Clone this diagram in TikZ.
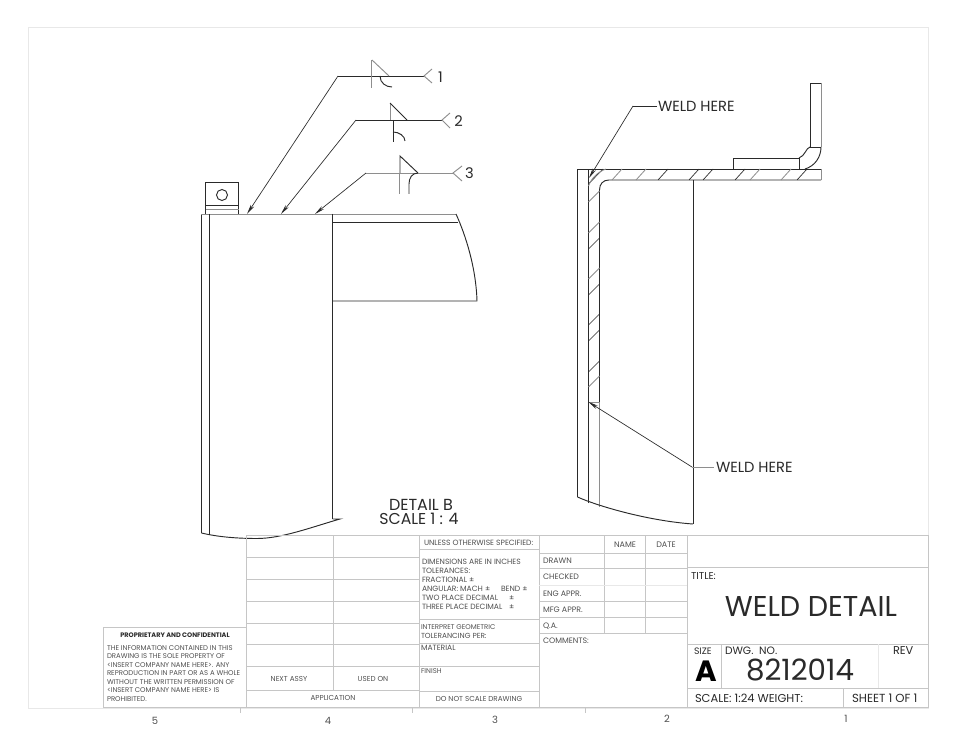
\documentclass[tikz,border=0pt]{standalone}
\usepackage{fontspec}
\setmainfont{Poppins}
\usetikzlibrary{arrows.meta}
\definecolor{ink}{HTML}{2A2A2A}
\definecolor{soft}{HTML}{8E8E8E}
\definecolor{rule}{HTML}{C6C6C6}
\definecolor{faint}{HTML}{E8E8E8}
\definecolor{smalltext}{HTML}{505050}
\newcommand\fs[1]{\fontsize{#1}{#1}\selectfont}
\tikzset{
 every node/.style={inner sep=0pt,outer sep=0pt},
 part/.style={draw=ink,line width=0.7pt},
 partsoft/.style={draw=soft,line width=0.7pt},
 hatch/.style={draw=ink,line width=0.5pt},
 hatchsoft/.style={draw=soft,line width=0.6pt},
 tbl/.style={draw=rule,line width=0.6pt},
 frame/.style={draw=faint,line width=0.6pt},
 leader/.style={draw=ink,line width=0.5pt,-{Stealth[length=7.5pt,width=2.8pt]}},
 leadsoft/.style={draw=soft,line width=0.6pt},
 big/.style={text=ink,font=\fs{11pt}},
 small/.style={text=smalltext,font=\fs{5.7pt},anchor=west},
 note/.style={text=smalltext,font=\fs{5.2pt},anchor=west},
 smallc/.style={text=smalltext,font=\fs{5.4pt},anchor=center},
 mid/.style={text=smalltext,font=\fs{7.5pt}},
 titletext/.style={anchor=west,text=ink,font=\fs{8.6pt}},
}
\begin{document}
\begin{tikzpicture}[x=0.75pt,y=-0.75pt]
\useasboundingbox (0,0) rectangle (960,741);
\fill[white] (0,0) rectangle (960,741);
% sheet frame
\draw[frame] (28,27) rectangle (928,708);
\foreach \x in {240,412,585}{\draw[tbl] (\x,708)--(\x,713);}
\node[mid] (zone5) at (155,721) {5};
\node[mid] (zone4) at (328,721) {4};
\node[mid] (zone3) at (495,720) {3};
\node[mid] (zone2) at (667,719) {2};
\node[mid] (zone1) at (846,719) {1};

% left view
\draw[part] (201.5,533) -- (201.5,214);
\draw[partsoft] (201,214) -- (456,214);
\draw[part] (209.5,214) -- (209.5,535);
\draw[part] (332.5,214) -- (332.5,519);
\draw[part] (332.5,222) -- (458,222);
\draw[part] (456,214) .. controls (466,236) and (476,268) .. (477,301) -- (332.5,301);
\draw[part] (201.5,533) .. controls (218,537) and (238,538.5) .. (257,538.5) .. controls (282,538.5) and (312,527) .. (340,519) -- (332.5,519);
% bracket
\draw[part] (205.5,214) -- (205.5,182) -- (238.5,182) -- (238.5,214);
\draw[part] (205.5,205) -- (238.5,205);
\draw[partsoft] (205.5,209) -- (238.5,209);
\draw[part] (222,195) circle[radius=5.5];

% weld symbol 1
\coordinate (t1) at (247,214); \coordinate (k1) at (338,76); \coordinate (e1) at (424,76);
\draw[leader] (k1) -- (t1);
\draw[draw=ink,line width=0.6pt] (k1) -- (e1);
\draw[partsoft] (432,69) -- (e1) -- (432,83);
\node[big] (lab1) at (440.5,77) {1};
\draw[partsoft] (372,60) -- (389,76);
\draw[partsoft] (371,60) -- (371,88);
\draw[part] (380,76) .. controls (380,83) and (386,87) .. (392,87);
% weld symbol 2
\coordinate (t2) at (281,214); \coordinate (k2) at (356,120); \coordinate (e2) at (442,120);
\draw[leader] (k2) -- (t2);
\draw[draw=ink,line width=0.6pt] (k2) -- (e2);
\draw[partsoft] (450,113) -- (e2) -- (450,128);
\node[big] (lab2) at (458.5,121) {2};
\draw[partsoft] (390,103) -- (390,120);
\draw[part] (390,103) -- (407,120);
\draw[part] (393,120) -- (393,142);
\draw[part] (393,132) .. controls (399,132) and (405,136) .. (405,141);
% weld symbol 3
\coordinate (t3) at (315,214); \coordinate (k3) at (366,173); \coordinate (e3) at (453,173);
\draw[leader] (k3) -- (t3);
\draw[leadsoft] (k3) -- (e3);
\draw[partsoft] (462,166) -- (e3) -- (462,181);
\node[big] (lab3) at (469.5,173) {3};
\draw[part] (400,173) -- (400,156) -- (418,173);
\draw[part] (418,173) .. controls (412,173) and (409,178) .. (409,184) -- (409,194);
\draw[partsoft] (399,173) -- (399,194);

\node[big,font=\fs{12pt}] (det1) at (421,505) {DETAIL B};
\node[big,font=\fs{11.8pt}] (det2) at (419,519) {SCALE 1 : 4};

% right view
\draw[part] (577.5,497) -- (577.5,169) -- (821,169);
\draw[part] (588.5,503) -- (588.5,169);
\draw[part] (599.5,402) -- (599.5,190) .. controls (599.5,184) and (603,180) .. (609,180) -- (821,180);
\draw[partsoft] (821,169) -- (821,180);
\draw[partsoft] (599.5,402) -- (599.5,507);
\draw[partsoft] (588.5,402) -- (599.5,402);
\draw[part] (693,180) -- (693,524);
\draw[part] (577.5,497) .. controls (600,507) and (650,521) .. (693,524);
% hook
\draw[part] (810,147) -- (810,83) -- (821,83);
\draw[partsoft] (821,83) -- (821,147);
\draw[part] (810,147) -- (821,147);
\draw[part] (821,147) .. controls (821,157) and (815,166) .. (805,169);
\draw[part] (810,147) .. controls (806,148) and (805,156) .. (799,158);
\draw[part] (733,169) -- (733,158) -- (799,158) -- (799,169);
% hatches, top plate
\foreach \x in {658,689,703,735,797}{\draw[hatch] (\x,180)--(\x+10,169);}
\foreach \x in {612,636,750,781}{\draw[hatchsoft] (\x,180)--(\x+10,169);}
% hatches, wall
\foreach \y in {249,295,325,341,372}{\draw[hatch] (588.5,\y)--(599.5,\y-11);}
\foreach \y in {202,233,279,387}{\draw[hatchsoft] (588.5,\y)--(599.5,\y-11);}
% corner of the weld
\draw[hatch] (588.5,184) -- (603,169);
\draw[hatchsoft] (588.5,186) .. controls (592,177) and (598,172) .. (606,169);
\coordinate (wt1) at (589,178); \coordinate (wk1) at (633,106); \coordinate (we1) at (657,106);
\draw[leader] (wk1) -- (wt1);
\draw[draw=ink,line width=0.6pt] (wk1) -- (we1);
\node[big,anchor=west] (weld1) at (658,106.5) {WELD HERE};
\coordinate (wt2) at (588.5,402); \coordinate (wk2) at (692,467); \coordinate (we2) at (714,467);
\draw[leader] (wk2) -- (wt2);
\draw[leadsoft] (wk2) -- (we2);
\node[big,anchor=west] (weld2) at (716,467.5) {WELD HERE};

% title block rules
\draw[tbl] (246,535) -- (928,535) -- (928,707) -- (103,707) -- (103,627) -- (246,627);
\draw[tbl] (246,535) -- (246,707);
\draw[tbl] (333,535) -- (333,690);
\draw[tbl] (419,535) -- (419,707);
\foreach \y in {557,579,601,623,644,666,690}{\draw[tbl] (246,\y)--(419,\y);}
\foreach \y in {549,619,643,666,691}{\draw[tbl] (419,\y)--(539,\y);}
\draw[tbl] (539,535) -- (539,707);
\draw[tbl] (604,535) -- (604,633);
\draw[tbl] (645,535) -- (645,633);
\draw[tbl] (687,535) -- (687,707);
\foreach \y in {553,568,601,617,633}{\draw[tbl] (539,\y)--(687,\y);}
\draw[frame] (539,585)--(687,585);
\foreach \y in {567,644,688}{\draw[tbl] (687,\y)--(928,\y);}
\draw[tbl] (721,644) -- (721,688);
\draw[frame] (878,644) -- (878,688);
\draw[tbl] (843,688) -- (843,707);

% proprietary note
\node[anchor=center,text=ink,font=\fs{4.9pt}\bfseries] (pn0) at (175,635) {PROPRIETARY AND CONFIDENTIAL};
\node[note] (pn1) at (107,648) {THE INFORMATION CONTAINED IN THIS};
\node[note] (pn2) at (107,656.5) {DRAWING IS THE SOLE PROPERTY OF};
\node[note] (pn3) at (107,665) {<INSERT COMPANY NAME HERE>. ANY};
\node[note] (pn4) at (107,673.5) {REPRODUCTION IN PART OR AS A WHOLE};
\node[note] (pn5) at (107,682) {WITHOUT THE WRITTEN PERMISSION OF};
\node[note] (pn6) at (107,690.5) {<INSERT COMPANY NAME HERE> IS};
\node[note] (pn7) at (107,699) {PROHIBITED.};

\node[smallc] (next) at (289,679) {NEXT ASSY};
\node[smallc] (used) at (373,679) {USED ON};
\node[smallc] (appl) at (333,698) {APPLICATION};
\node[smallc] (noscale) at (479,699) {DO NOT SCALE DRAWING};

\node[small] (t1a) at (424,543) {UNLESS OTHERWISE SPECIFIED:};
\node[small] (t2a) at (422,562) {DIMENSIONS ARE IN INCHES};
\node[small] (t3a) at (422,571) {TOLERANCES:};
\node[small] (t4a) at (422,580) {FRACTIONAL ±};
\node[small] (t5a) at (422,589) {ANGULAR: MACH ±};
\node[small] (t5b) at (501,589) {BEND ±};
\node[small] (t6a) at (422,598) {TWO PLACE DECIMAL};
\node[small] (t6b) at (509,598) {±};
\node[small] (t7a) at (422,607) {THREE PLACE DECIMAL};
\node[small] (t7b) at (509,607) {±};
\node[note] (t8a) at (421,627) {INTERPRET GEOMETRIC};
\node[small,font=\fs{5.5pt}] (t9a) at (421,636) {TOLERANCING PER:};
\node[small] (t10a) at (421,648) {MATERIAL};
\node[note] (t11a) at (421,671) {FINISH};

\node[small,font=\fs{5.9pt}] (r1) at (543,561) {DRAWN};
\node[small,font=\fs{5.9pt}] (r2) at (543,577) {CHECKED};
\node[small,font=\fs{5.9pt}] (r3) at (543,594) {ENG APPR.};
\node[small,font=\fs{5.9pt}] (r4) at (543,610) {MFG APPR.};
\node[small,font=\fs{5.9pt}] (r5) at (543,626) {Q.A.};
\node[small,font=\fs{5.9pt}] (r6) at (543,641) {COMMENTS:};
\node[smallc,font=\fs{6pt}] (hname) at (625,545) {NAME};
\node[smallc,font=\fs{6pt}] (hdate) at (666,545) {DATE};

\node[titletext,font=\fs{7.5pt}] (title) at (691,576) {TITLE:};
\node[anchor=center,text=ink,font=\fs{21.5pt}] (wd) at (811,607) {WELD DETAIL};
\node[titletext,font=\fs{7pt}] (size) at (694,651) {SIZE};
\node[anchor=center,text=black,font=\fs{22pt}\bfseries] (asize) at (706,671) {A};
\node[titletext,font=\fs{8pt}] (dwg) at (725,651) {DWG.\ \ NO.};
\node[titletext,font=\fs{8.5pt}] (rev) at (893,651) {REV};
\node[anchor=center,text=ink,font=\fs{22pt}] (num) at (800,670) {8212014};
\node[titletext] (scale) at (695,698) {SCALE: 1:24 WEIGHT:};
\node[titletext,font=\fs{8.8pt}] (sheet) at (852,698) {SHEET 1 OF 1};
\end{tikzpicture}
\end{document}
